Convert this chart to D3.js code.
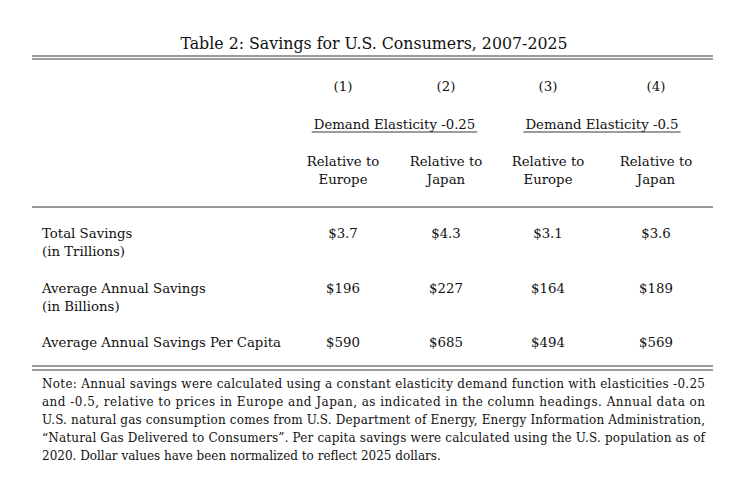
<!DOCTYPE html>
<html>
<head>
<meta charset="utf-8">
<script src="https://cdn.jsdelivr.net/npm/d3@7"></script>
<style>
body { margin:0; background:#fff; }
text { font-family: "DejaVu Serif", "Liberation Serif", serif; font-size:13.3px; fill:#111; }
</style>
</head>
<body>
<svg id="chart" width="748" height="480"></svg>
<script>
// Table 2 — savings table drawn as svg text

var title = "Table 2: Savings for U.S. Consumers, 2007-2025";
var colNums = ["(1)", "(2)", "(3)", "(4)"];
var groups = ["Demand Elasticity -0.25", "Demand Elasticity -0.5"];
var colHeads = [["Relative to","Europe"],["Relative to","Japan"],["Relative to","Europe"],["Relative to","Japan"]];
var rowLabels = [["Total Savings","(in Trillions)"],["Average Annual Savings","(in Billions)"],["Average Annual Savings Per Capita"]];
var values = [
  ["$3.7","$4.3","$3.1","$3.6"],
  ["$196","$227","$164","$189"],
  ["$590","$685","$494","$569"]
];
var noteLines = [
  "Note:  Annual savings were calculated using a constant elasticity demand function with elasticities -0.25",
  "and -0.5, relative to prices in Europe and Japan, as indicated in the column headings.  Annual data on",
  "U.S. natural gas consumption comes from U.S. Department of Energy, Energy Information Administration,",
  "\u201cNatural Gas Delivered to Consumers\u201d. Per capita savings were calculated using the U.S. population as of",
  "2020. Dollar values have been normalized to reflect 2025 dollars."
];

var svg = d3.select("#chart");
var x = d3.scaleOrdinal().domain([0,1,2,3]).range([343,446,548,656]);
var yRow = d3.scaleOrdinal().domain([0,1,2]).range([238,293,347]);

svg.append("text").attr("x",374).attr("y",49).attr("text-anchor","middle")
  .style("font-size","15.8px").text(title);

function rule(y){
  svg.append("line").attr("x1",32).attr("x2",713).attr("y1",y).attr("y2",y)
    .attr("stroke","#222").attr("stroke-width",0.9);
}
rule(56); rule(59); rule(207); rule(366); rule(370);

svg.selectAll(".num").data(colNums).enter().append("text")
  .attr("x",function(d,i){ return x(i); }).attr("y",91)
  .attr("text-anchor","middle").text(function(d){ return d; });

groups.forEach(function(g,i){
  var cx = (x(i*2) + x(i*2+1)) / 2;
  var t = svg.append("text").attr("x",cx).attr("y",129).attr("text-anchor","middle").text(g);
  var w = t.node().getComputedTextLength();
  svg.append("line").attr("x1",cx-w/2-2).attr("x2",cx+w/2+2).attr("y1",132).attr("y2",132)
    .attr("stroke","#222").attr("stroke-width",0.9);
});

colHeads.forEach(function(h,i){
  h.forEach(function(s,j){
    svg.append("text").attr("x",x(i)).attr("y",166+j*18).attr("text-anchor","middle").text(s);
  });
});

rowLabels.forEach(function(lab,r){
  lab.forEach(function(s,j){
    svg.append("text").attr("x",42).attr("y",yRow(r)+j*18).text(s);
  });
  values[r].forEach(function(v,c){
    svg.append("text").attr("x",x(c)).attr("y",yRow(r)).attr("text-anchor","middle").text(v);
  });
});

noteLines.forEach(function(s,i){
  var t = svg.append("text").attr("x",42).attr("y",388+i*18).style("font-size","12px").text(s);
  if (i < noteLines.length-1) t.attr("textLength",663).attr("lengthAdjust","spacing");
});
</script>
</body>
</html>
